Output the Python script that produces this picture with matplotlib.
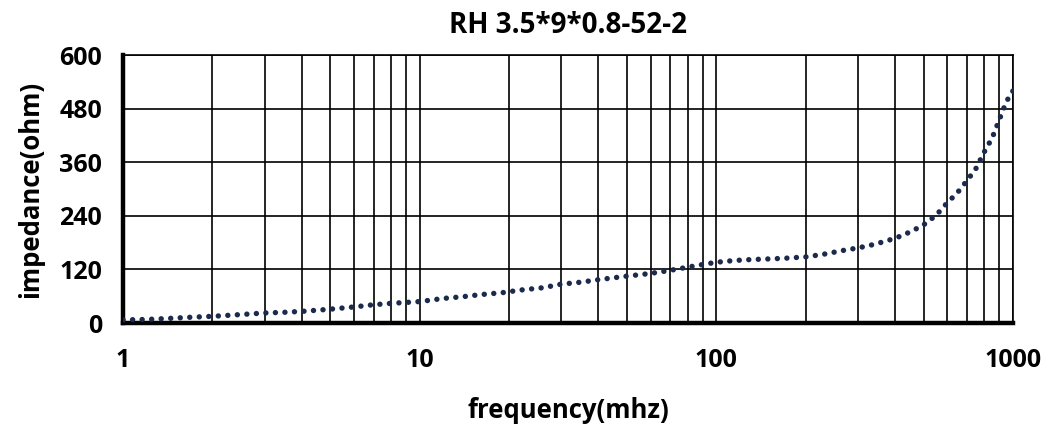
import numpy as np
import matplotlib
matplotlib.use('Agg')
import matplotlib.pyplot as plt
from matplotlib.ticker import LogLocator, FixedLocator, NullFormatter

# values
freq = [1, 1.2, 1.4, 1.7, 2, 2.5, 3, 3.5, 4, 5, 6, 7, 8, 10, 12, 14, 16, 19,
        22, 26, 30, 35, 40, 50, 60, 70, 80, 90, 100, 115, 130, 150, 170, 200,
        230, 270, 300, 340, 380, 420, 460, 500, 550, 600, 650, 700, 750, 800,
        850, 900, 950, 1000]
impedance = [7, 8, 10, 13, 15, 19, 22.5, 24, 26, 31, 36, 41, 44, 48, 55, 59,
             63.5, 68, 74, 79, 87, 91.5, 97, 105, 111, 118, 125, 131, 136, 140,
             142, 143.5, 145, 148, 154, 163, 168, 176, 185, 195, 207, 220, 241,
             269, 292, 319, 346, 383, 414, 456, 496, 520]

x_ticks = [1, 10, 100, 1000]
x_labels = ['1', '10', '100', '1000']
y_ticks = [0, 120, 240, 360, 480, 600]

plt.rcParams['font.family'] = ['Open Sans', 'DejaVu Sans']
plt.rcParams['font.weight'] = 'bold'

fig = plt.figure(figsize=(10.49, 4.30), dpi=100)
ax = fig.add_axes([0.1173, 0.2488, 0.8484, 0.6232])

ax.plot(freq, impedance, color='#1c2a4c', linewidth=3.9,
        linestyle=(0, (0.01, 1.75)), dash_capstyle='round', zorder=3)

ax.set_xscale('log')
ax.set_xlim(1, 1000)
ax.set_ylim(0, 600)

ax.xaxis.set_major_locator(FixedLocator(x_ticks))
ax.set_xticklabels(x_labels)
ax.xaxis.set_minor_locator(LogLocator(base=10, subs=np.arange(2, 10)))
ax.xaxis.set_minor_formatter(NullFormatter())
ax.set_yticks(y_ticks)

ax.grid(True, which='both', axis='x', color='black', linewidth=1.2)
ax.grid(True, which='major', axis='y', color='black', linewidth=1.2)
ax.set_axisbelow(True)

ax.tick_params(axis='both', which='both', length=0, labelsize=18)
ax.tick_params(axis='x', pad=18)
ax.tick_params(axis='y', pad=15)
for lab in ax.get_xticklabels() + ax.get_yticklabels():
    lab.set_fontweight('bold')

ax.spines['left'].set_linewidth(3.2)
ax.spines['bottom'].set_linewidth(3.2)
ax.spines['top'].set_linewidth(1.2)
ax.spines['right'].set_linewidth(1.2)

ax.set_title('RH 3.5*9*0.8-52-2', fontsize=20, fontweight='bold', pad=16)
ax.set_xlabel('frequency(mhz)', fontsize=18.5, fontweight='bold', labelpad=17)
ax.set_ylabel('impedance(ohm)', fontsize=18.5, fontweight='bold', labelpad=11)

fig.savefig('out.png', dpi=100)
